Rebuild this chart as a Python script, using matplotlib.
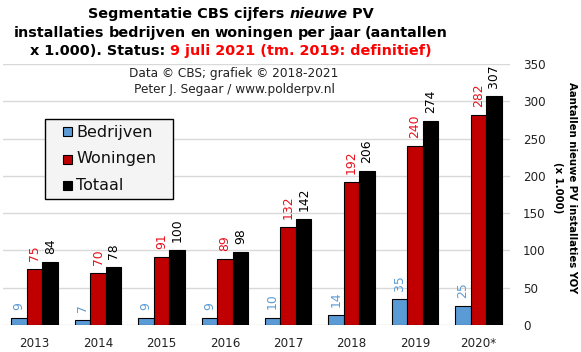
import matplotlib
matplotlib.use("Agg")
import matplotlib.pyplot as plt
from matplotlib.patches import Rectangle
import numpy as np

years = ["2013", "2014", "2015", "2016", "2017", "2018", "2019", "2020*"]
bedrijven = [9, 7, 9, 9, 10, 14, 35, 25]
woningen = [75, 70, 91, 89, 132, 192, 240, 282]
totaal = [84, 78, 100, 98, 142, 206, 274, 307]
legend_labels = ["Bedrijven", "Woningen", "Totaal"]

C_BLUE = "#5b9bd5"
C_RED = "#c00000"
C_BLACK = "#000000"
C_REDLBL = "#e8101a"

W, H = 581, 352
plt.rcParams['font.family'] = ['DejaVu Sans']
fig = plt.figure(figsize=(W/100, H/100), dpi=100)
ax = fig.add_axes([3/W, 1-325/H, 507/W, (325-64)/H])

def fx(px):
    return px / W

def fy(py):
    return 1 - py / H

x = np.arange(len(years))
w = 0.245
series = [(bedrijven, C_BLUE, C_BLUE), (woningen, C_RED, C_REDLBL), (totaal, C_BLACK, C_BLACK)]
for i, (vals, col, lcol) in enumerate(series):
    pos = x + (i - 1) * w
    ax.bar(pos, vals, width=w, color=col, edgecolor="black", linewidth=0.8, zorder=3)
    for px, v in zip(pos, vals):
        ax.annotate(str(v), (px, v), xytext=(0, 5.8), textcoords="offset points",
                    rotation=90, ha="center", va="bottom", color=lcol, fontsize=8.9)

ax.set_xlim(-0.5, len(years) - 0.5)
ax.set_ylim(0, 350)
ax.yaxis.tick_right()
ax.set_yticks(range(0, 351, 50))
ax.set_xticks(x)
ax.set_xticklabels(years)
ax.tick_params(axis="both", length=0, labelsize=8.6, colors="#222222")
ax.tick_params(axis="y", pad=9.4)
ax.tick_params(axis="x", pad=8.4)
for s in ax.spines.values():
    s.set_visible(False)
ax.grid(axis="y", color="#d9d9d9", linewidth=1, zorder=0)
ax.set_axisbelow(True)

# Legend (drawn manually to match box geometry)
fig.patches.append(Rectangle((fx(45), fy(199)), fx(128), 80/H, transform=fig.transFigure,
                             facecolor="#f4f4f4", edgecolor="black", linewidth=1.0, zorder=5))
for lab, col, yc in zip(legend_labels, [C_BLUE, C_RED, C_BLACK], [132, 159, 186]):
    fig.patches.append(Rectangle((fx(63), fy(yc + 4.5)), fx(9), 9/H, transform=fig.transFigure,
                                 facecolor=col, edgecolor="black", linewidth=0.8, zorder=6))
    fig.text(fx(76), fy(yc), lab, fontsize=11.5, ha="left", va="center", color="#111111", zorder=7)

fig.text(fx(565), fy(188), "Aantallen nieuwe PV installaties YOY\n(x 1.000)",
         rotation=270, ha="center", va="center", fontsize=7.3, fontweight="bold",
         multialignment="center", linespacing=1.45)

fig.text(fx(234), fy(82), "Data \u00a9 CBS; grafiek \u00a9 2018-2021\nPeter J. Segaar / www.polderpv.nl",
         ha="center", va="center", fontsize=8.7, color="#222222", linespacing=1.3)

# Title lines with mixed styles
TS = 10.4
cx = 231
fig.canvas.draw()
r = fig.canvas.get_renderer()

def centered_line(segs, yb):
    texts = []
    for s, st, col in segs:
        t = fig.text(0, fy(yb), s, fontsize=TS, fontweight="bold", style=st,
                     color=col, ha="left", va="baseline")
        texts.append(t)
    widths = [t.get_window_extent(r).width for t in texts]
    xs = cx - sum(widths) / 2
    for t, wd in zip(texts, widths):
        t.set_x(fx(xs))
        xs += wd

centered_line([("Segmentatie CBS cijfers ", "normal", "black"), ("nieuwe", "italic", "black"),
               (" PV", "normal", "black")], 18)

# justified second line
words = "installaties bedrijven en woningen per jaar (aantallen".split()
wt = [fig.text(0, fy(37), wd, fontsize=TS, fontweight="bold", color="black",
               ha="left", va="baseline") for wd in words]
ww = [t.get_window_extent(r).width for t in wt]
x0, x1 = 14, 448
gap = (x1 - x0 - sum(ww)) / (len(words) - 1)
xs = x0
for t, wd in zip(wt, ww):
    t.set_x(fx(xs))
    xs += wd + gap

centered_line([("x 1.000). Status: ", "normal", "black"),
               ("9 juli 2021 (tm. 2019: definitief)", "normal", "#ff0000")], 55)

fig.savefig("out.png", dpi=100)
